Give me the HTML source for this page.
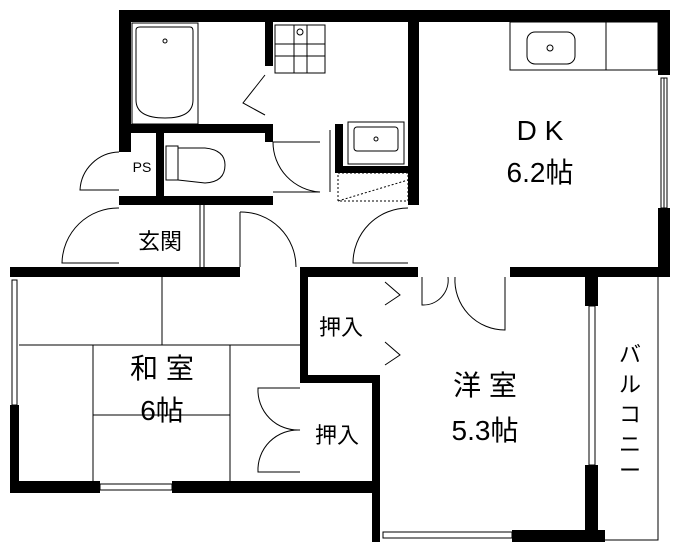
<!DOCTYPE html>
<html><head><meta charset="utf-8"><style>
html,body{margin:0;padding:0;background:#fff;}
svg{display:block;}
text{font-family:"Liberation Sans","Noto Sans CJK JP",sans-serif;fill:#000;}
</style></head><body>
<svg width="679" height="553" viewBox="0 0 679 553" xmlns="http://www.w3.org/2000/svg">
<g fill="#000">
<rect x="119" y="10" width="551" height="12"/>
<rect x="119" y="10" width="12" height="142"/>
<rect x="658" y="10" width="12" height="65"/>
<rect x="658" y="208" width="12" height="68"/>
<rect x="119" y="124" width="154" height="9"/>
<rect x="156" y="132" width="8" height="66"/>
<rect x="119" y="196" width="154" height="9"/>
<rect x="265" y="22" width="8" height="44"/>
<rect x="265" y="124" width="8" height="18"/>
<rect x="335" y="124" width="8" height="44"/>
<rect x="335" y="166" width="75" height="7"/>
<rect x="408" y="22" width="11" height="183"/>
<rect x="10" y="267" width="230" height="10"/>
<rect x="300" y="267" width="118" height="10"/>
<rect x="510" y="267" width="160" height="10"/>
<rect x="300" y="267" width="8" height="115"/>
<rect x="300" y="375" width="80" height="8"/>
<rect x="372" y="375" width="8" height="167"/>
<rect x="10" y="405" width="9" height="88"/>
<rect x="10" y="481" width="90" height="12"/>
<rect x="172" y="481" width="208" height="12"/>
<rect x="512" y="530" width="93" height="12"/>
<rect x="585" y="276" width="13" height="30"/>
<rect x="585" y="465" width="13" height="77"/>
</g>
<g fill="none" stroke="#000" stroke-width="1">
<rect x="661" y="78" width="6" height="130"/>
<line x1="664" y1="78" x2="664" y2="208"/>
<rect x="12" y="280" width="5" height="125"/>
<rect x="100" y="484" width="72" height="6"/>
<rect x="383" y="532" width="129" height="6"/>
<rect x="589" y="306" width="6" height="159"/>
<path d="M598 276 H658 V540 H598"/>
<rect x="132" y="23" width="66" height="101"/>
<path d="M136 30 Q136 27 140 27 H190 Q193 27 193 31 V100 Q193 118 165 118 Q136 118 136 100 Z"/>
<circle cx="165" cy="41" r="2"/>
<rect x="275" y="25" width="50" height="48"/>
<line x1="275" y1="44" x2="325" y2="44"/><line x1="275" y1="56" x2="325" y2="56"/>
<line x1="294" y1="25" x2="294" y2="73"/><line x1="307" y1="25" x2="307" y2="73"/>
<circle cx="300" cy="32" r="3"/>
<path d="M166 146 H178 V180 H166 Z"/>
<path d="M178 148 H205 Q225 150 225 165 Q225 182 205 183 L178 180"/>
<rect x="348" y="122" width="56" height="42"/>
<rect x="354" y="127" width="44" height="24" rx="3"/>
<circle cx="376" cy="139" r="2"/>
<path d="M338 173 H408 V201 H338 Z" stroke-dasharray="2,2"/>
<line x1="338" y1="201" x2="408" y2="180" stroke-dasharray="2,2"/>
<rect x="510" y="22" width="148" height="48"/>
<line x1="606" y1="22" x2="606" y2="70"/>
<rect x="527" y="32" width="48" height="32" rx="8"/>
<circle cx="550" cy="48" r="3"/>
<path d="M119 152 A40 40 0 0 0 80 190 H119"/>
<path d="M119 208 A56 56 0 0 0 62 263 H119"/>
<path d="M240 212 A55 55 0 0 1 296 267 M240 212 V267"/>
<path d="M408 208 A55 55 0 0 0 353 263 H408"/>
<path d="M273 142 H320 M273 142 A50 50 0 0 0 320 192 H273"/>
<line x1="330" y1="130" x2="330" y2="192"/>
<path d="M422 277 V305 A25 25 0 0 0 448 277"/>
<path d="M455 277 A50 50 0 0 0 505 330 V277"/>
<path d="M300 388 H258 A40 40 0 0 0 300 430 A40 40 0 0 0 258 472 H300"/>
<path d="M265 75 L243 103 L265 115"/>
<path d="M385 282 L400 295 L385 305"/>
<path d="M385 342 L400 355 L385 365"/>
<line x1="200" y1="205" x2="200" y2="267"/><line x1="204" y1="205" x2="204" y2="267"/>
<line x1="19" y1="345" x2="300" y2="345"/>
<line x1="162" y1="277" x2="162" y2="345"/>
<line x1="93" y1="345" x2="93" y2="481"/>
<line x1="230" y1="345" x2="230" y2="481"/>
<line x1="93" y1="415" x2="230" y2="415"/>
</g>
<g font-size="28" text-anchor="middle">
<text x="540" y="140">D K</text>
<text x="540" y="182">6.2帖</text>
<text x="162" y="378">和 室</text>
<text x="162" y="420">6帖</text>
<text x="485" y="395">洋 室</text>
<text x="485" y="440">5.3帖</text>
</g>
<g font-size="22" text-anchor="middle">
<text x="341" y="335">押入</text>
<text x="337" y="443">押入</text>
<text x="160" y="249">玄関</text>
<text x="630" y="362">バ</text>
<text x="630" y="392">ル</text>
<text x="630" y="422">コ</text>
<text x="630" y="452">ニ</text>
<text x="630" y="478">ー</text>
</g>
<text x="142" y="172" font-size="14" text-anchor="middle">PS</text>
</svg>
</body></html>
